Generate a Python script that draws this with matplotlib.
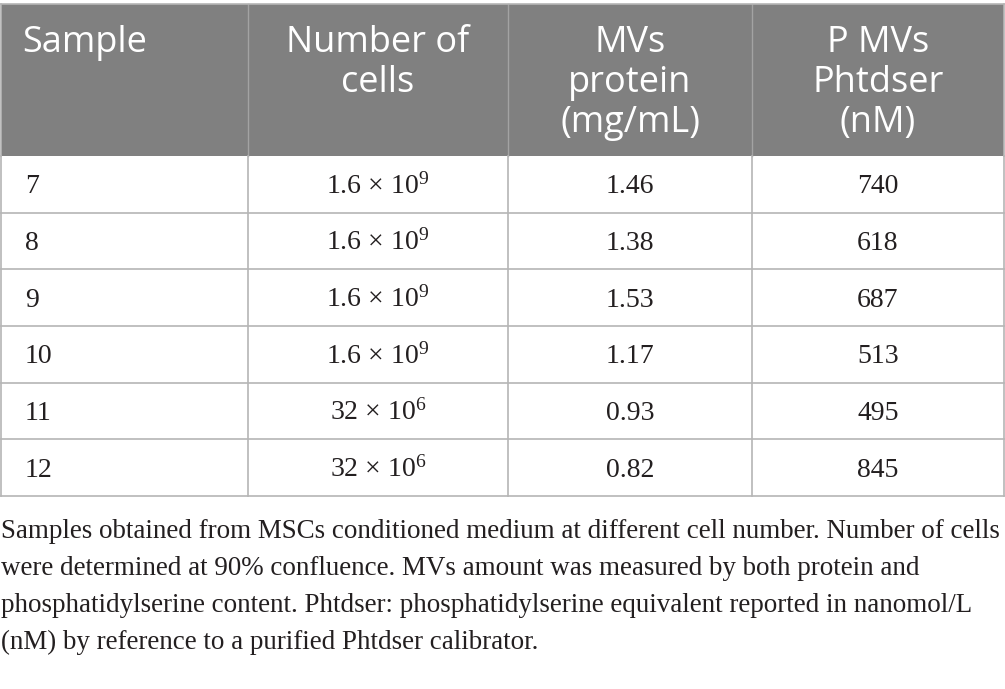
import matplotlib
matplotlib.use('Agg')
import matplotlib.pyplot as plt
from matplotlib.patches import Rectangle

# Données du tableau
colonnes = ['Sample', 'Number of\ncells', 'MVs\nprotein\n(mg/mL)', 'P MVs\nPhtdser\n(nM)']
echantillons = [7, 8, 9, 10, 11, 12]
nb_cellules = ['1.6 × 10$^{9}$', '1.6 × 10$^{9}$', '1.6 × 10$^{9}$', '1.6 × 10$^{9}$',
               '32 × 10$^{6}$', '32 × 10$^{6}$']
proteine_mg_ml = [1.46, 1.38, 1.53, 1.17, 0.93, 0.82]
phtdser_nm = [740, 618, 687, 513, 495, 845]
legende = [
    'Samples obtained from MSCs conditioned medium at different cell number. Number of cells',
    'were determined at 90% confluence. MVs amount was measured by both protein and',
    'phosphatidylserine content. Phtdser: phosphatidylserine equivalent reported in nanomol/L',
    '(nM) by reference to a purified Phtdser calibrator.',
]

# Mise en page (pixels)
W, H = 1005, 689
x_cols = [1, 248, 508, 752, 1004]
y_haut = 4
y_entete = 156
h_ligne = (496 - 156) / 6

gris_entete = '#808080'
gris_ligne = '#b5b5b5'
couleur_texte = '#231f20'

plt.rcParams['mathtext.fontset'] = 'custom'
plt.rcParams['mathtext.rm'] = 'Liberation Serif'
plt.rcParams['mathtext.it'] = 'Liberation Serif:italic'

fig = plt.figure(figsize=(W / 100, H / 100), dpi=100)
ax = fig.add_axes([0, 0, 1, 1])
ax.set_xlim(0, W)
ax.set_ylim(H, 0)
ax.axis('off')

# En-tête
ax.add_patch(Rectangle((x_cols[0], y_haut), x_cols[-1] - x_cols[0], y_entete - y_haut,
                       facecolor=gris_entete, edgecolor='none'))
for x in x_cols[1:-1]:
    ax.plot([x, x], [y_haut, y_entete], color='#a3a3a3', lw=1.0)

for j, titre in enumerate(colonnes):
    lignes = titre.split('\n')
    for k, txt in enumerate(lignes):
        if j == 0:
            ax.text(22, 52 + 40 * k, txt, ha='left', va='baseline', color='white',
                    family='Open Sans', fontsize=26)
        else:
            xc = (x_cols[j] + x_cols[j + 1]) / 2
            ax.text(xc, 52 + 40 * k, txt, ha='center', va='baseline', color='white',
                    family='Open Sans', fontsize=26)

# Corps du tableau
y_bas = y_entete + h_ligne * len(echantillons)
for i in range(len(echantillons)):
    y0 = y_entete + i * h_ligne
    yb = y0 + h_ligne / 2 + 9
    valeurs = [str(echantillons[i]), nb_cellules[i], f'{proteine_mg_ml[i]:.2f}', str(phtdser_nm[i])]
    for j, v in enumerate(valeurs):
        if j == 0:
            ax.text(25, yb, v, ha='left', va='baseline', color=couleur_texte,
                    family='Liberation Serif', fontsize=20)
        else:
            xc = (x_cols[j] + x_cols[j + 1]) / 2
            ax.text(xc, yb, v, ha='center', va='baseline', color=couleur_texte,
                    family='Liberation Serif', fontsize=20)
    if i > 0:
        ax.plot([x_cols[0], x_cols[-1]], [y0, y0], color=gris_ligne, lw=1.2)

for x in x_cols:
    ax.plot([x, x], [y_entete, y_bas], color=gris_ligne, lw=1.2)
ax.plot([x_cols[0], x_cols[-1]], [y_bas, y_bas], color=gris_ligne, lw=1.2)
ax.plot([x_cols[0], x_cols[-1]], [y_haut, y_haut], color=gris_ligne, lw=1.2)
ax.plot([x_cols[0], x_cols[0]], [y_haut, y_entete], color=gris_ligne, lw=1.2)
ax.plot([x_cols[-1], x_cols[-1]], [y_haut, y_entete], color=gris_ligne, lw=1.2)

# Légende du tableau
for k, txt in enumerate(legende):
    ax.text(1, 538 + 37 * k, txt, ha='left', va='baseline', color=couleur_texte,
            family='Liberation Serif', fontsize=19.45)

fig.savefig('out.png', dpi=100)
